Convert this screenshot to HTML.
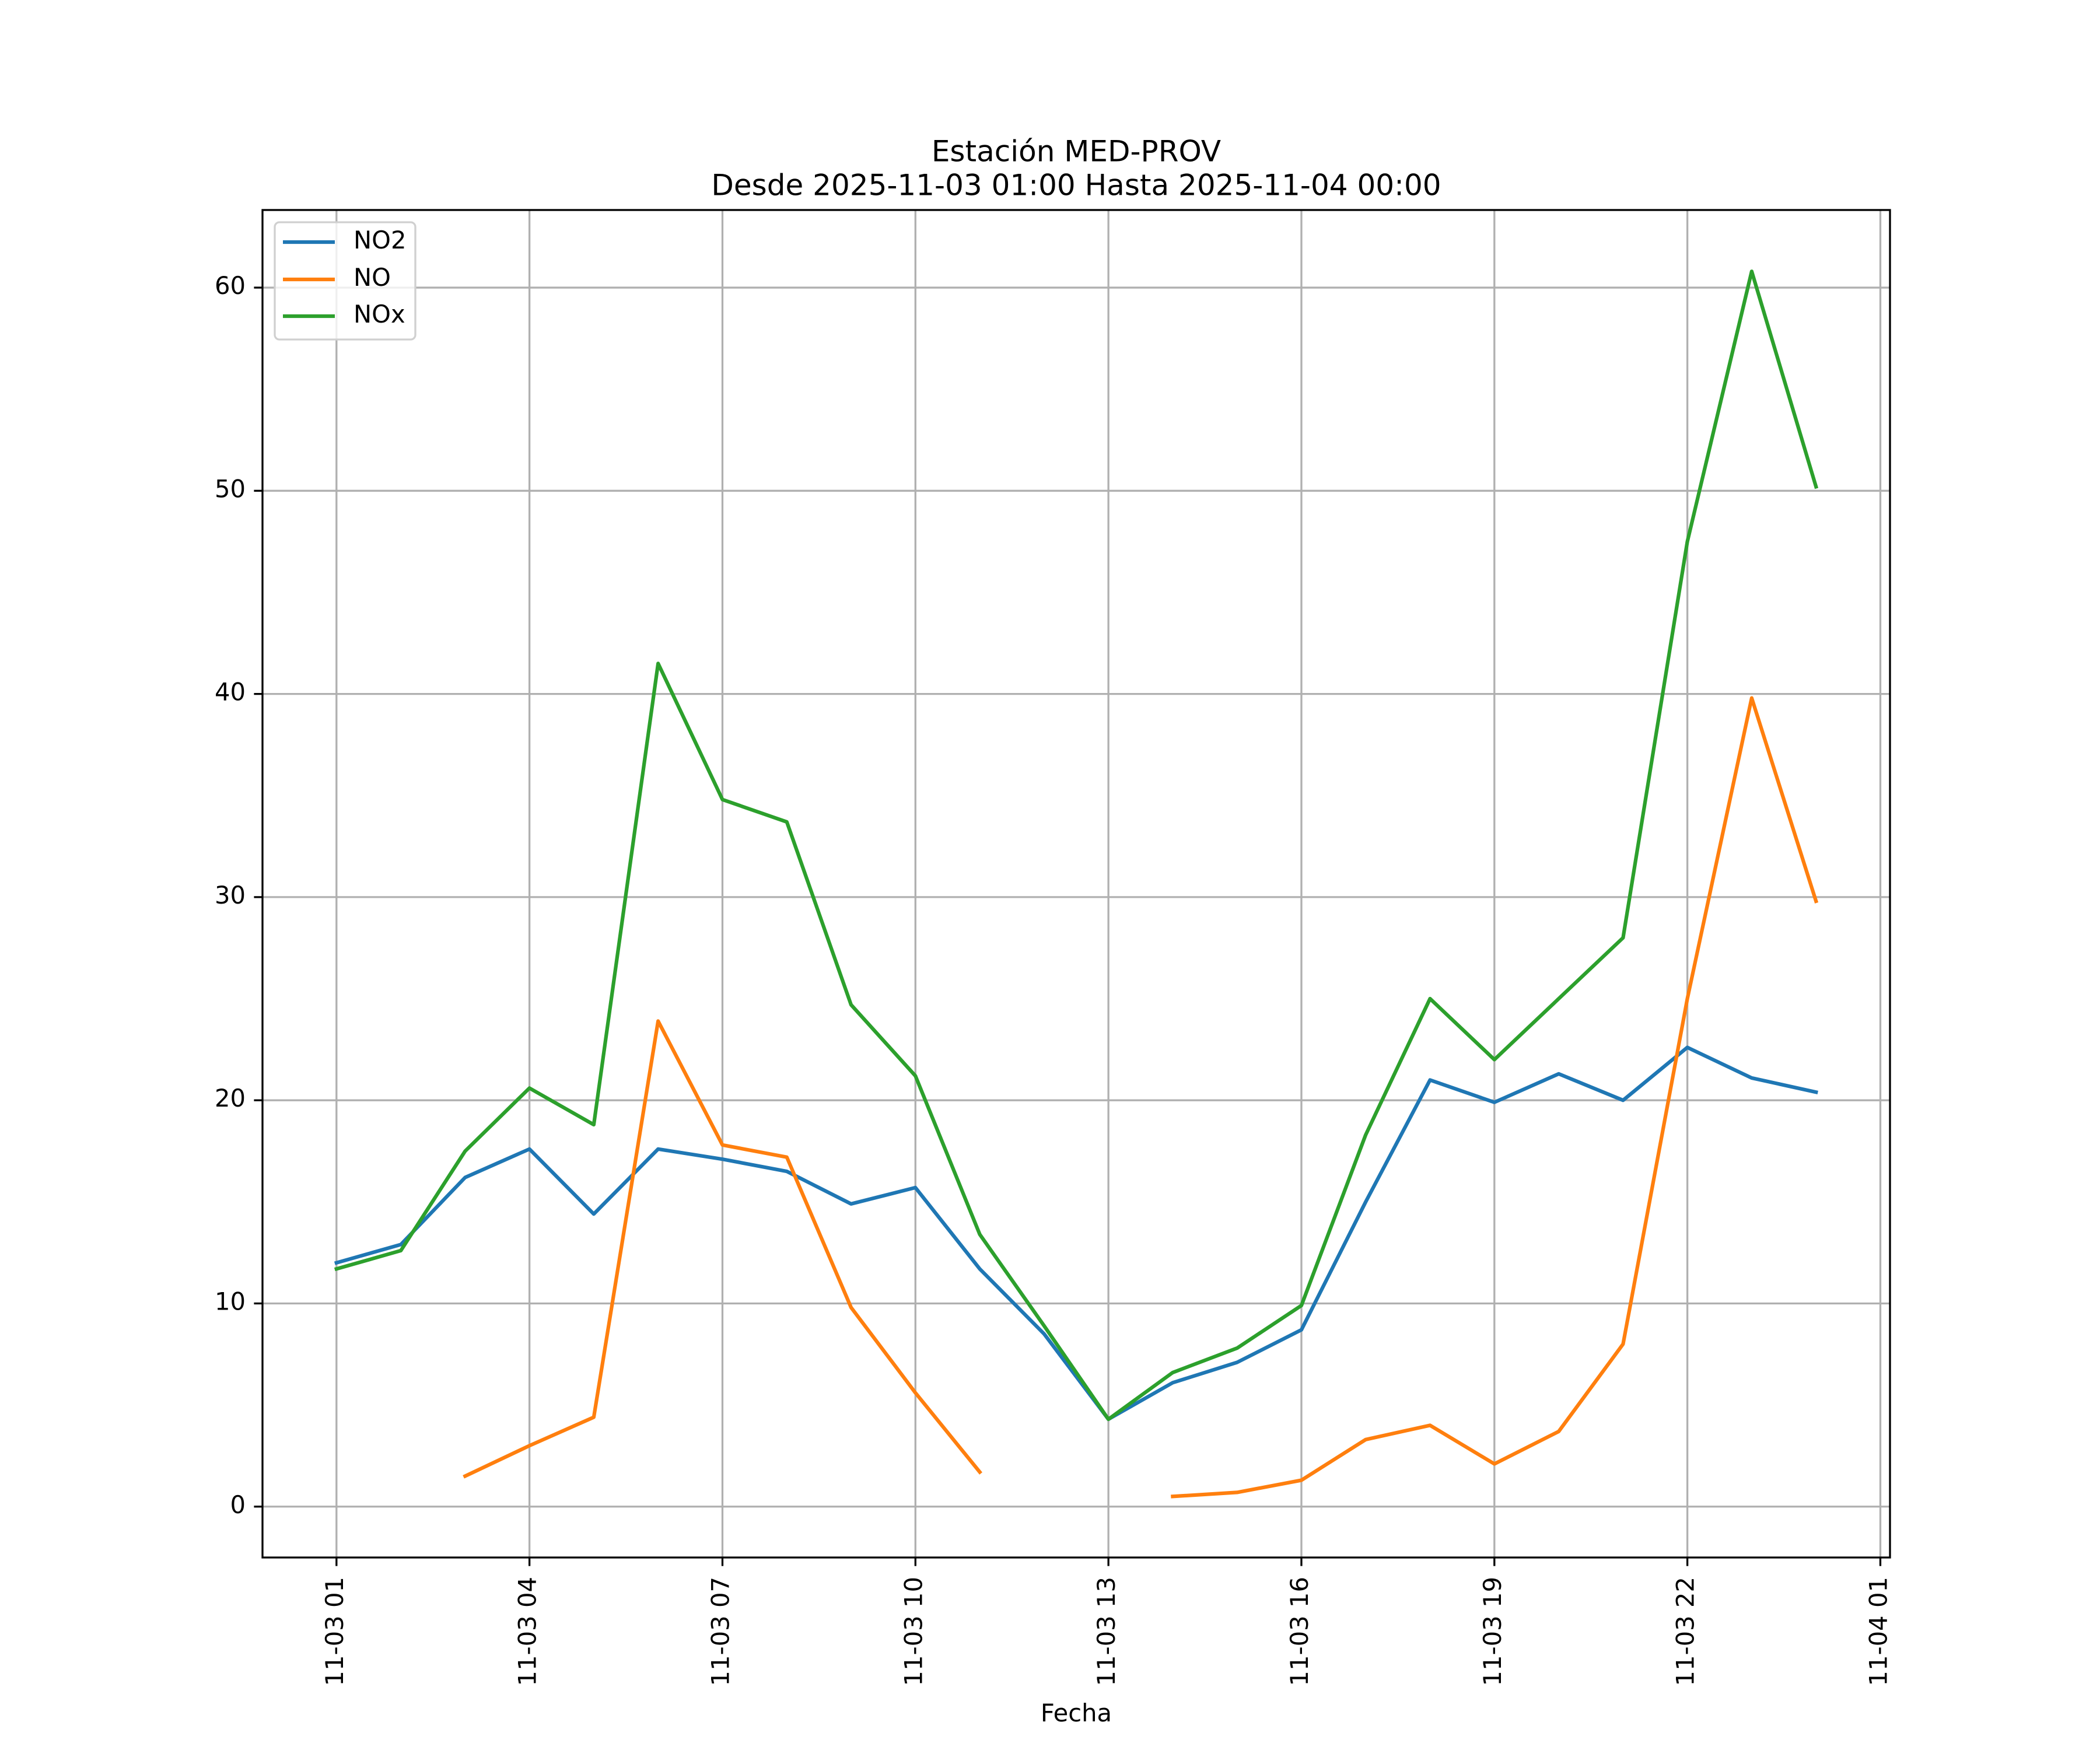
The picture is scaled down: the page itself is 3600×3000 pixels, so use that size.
<!DOCTYPE html>
<html><head><meta charset="utf-8"><style>
html,body{margin:0;padding:0;background:#fff;}
svg{display:block;font-family:"DejaVu Sans","Liberation Sans",sans-serif;}
</style></head><body>
<svg id="chart" width="3600" height="3000" viewBox="0 0 3600 3000" xmlns="http://www.w3.org/2000/svg">
<rect width="3600" height="3000" fill="#fff"/>
<text x="1845" y="263" font-size="50" text-anchor="middle" dominant-baseline="middle">Estación MED-PROV</text>
<text x="1845" y="321" font-size="50" text-anchor="middle" dominant-baseline="middle">Desde 2025-11-03 01:00 Hasta 2025-11-04 00:00</text>
<text x="1845" y="2940" font-size="41.7" text-anchor="middle" dominant-baseline="middle">Fecha</text>
<g id="grid"></g><g id="series"></g><g id="axes"></g><g id="legend"></g>
</svg>
<script>
const hours = [0,1,2,3,4,5,6,7,8,9,10,11,12,13,14,15,16,17,18,19,20,21,22,23];
const no2 = [12.0,12.9,16.2,17.6,14.4,17.6,17.1,16.5,14.9,15.7,11.7,8.5,4.3,6.1,7.1,8.7,15.0,21.0,19.9,21.3,20.0,22.6,21.1,20.4];
const no = [null,null,1.5,3.0,4.4,23.9,17.8,17.2,9.8,5.6,1.7,null,null,0.5,0.7,1.3,3.3,4.0,2.1,3.7,8.0,25.0,39.8,29.8];
const nox = [11.7,12.6,17.5,20.6,18.8,41.5,34.8,33.7,24.7,21.2,13.4,8.9,4.3,6.6,7.8,9.9,18.3,25.0,22.0,25.0,28.0,47.5,60.8,50.2];
const xTickHours = [0,3,6,9,12,15,18,21,24];
const xTickLabels = ["11-03 01","11-03 04","11-03 07","11-03 10","11-03 13","11-03 16","11-03 19","11-03 22","11-04 01"];
const yTicks = [0,10,20,30,40,50,60];

const L=450,R=3240,T=360,B=2670;
const XMIN=-1.15,XMAX=24.15,YMIN=-2.505,YMAX=63.82;
const sx=h=>L+(h-XMIN)/(XMAX-XMIN)*(R-L);
const sy=v=>B-(v-YMIN)/(YMAX-YMIN)*(B-T);
const NS="http://www.w3.org/2000/svg";
function mk(tag,attrs,parent){const e=document.createElementNS(NS,tag);for(const k in attrs)e.setAttribute(k,attrs[k]);parent.appendChild(e);return e;}
const grid=document.getElementById('grid'),axes=document.getElementById('axes'),ser=document.getElementById('series'),leg=document.getElementById('legend');

xTickHours.forEach((h,i)=>{
  const x=sx(h);
  const g=mk('line',{x1:x,x2:x,y1:T,y2:B,stroke:'#b0b0b0','stroke-width':3.3},grid);
  
  
  const t=mk('line',{x1:x,x2:x,y1:B,y2:B+14.6,stroke:'#000','stroke-width':3.3},axes);
  
  
  const lb=mk('text',{x:x,y:B+33,'font-size':41.7,'text-anchor':'end','dominant-baseline':'middle',transform:`rotate(-90 ${x} ${B+33})`},axes);
  lb.textContent=xTickLabels[i];
  
  
});
yTicks.forEach(v=>{
  const y=sy(v);
  const g=mk('line',{x1:L,x2:R,y1:y,y2:y,stroke:'#b0b0b0','stroke-width':3.3},grid);
  
  
  const t=mk('line',{x1:L-14.6,x2:L,y1:y,y2:y,stroke:'#000','stroke-width':3.3},axes);
  
  
  const lb=mk('text',{x:L-29,y:y,'font-size':41.7,'text-anchor':'end','dominant-baseline':'middle'},axes);
  lb.textContent=String(v);
  
  
});
const frame=mk('rect',{x:L,y:T,width:R-L,height:B-T,fill:'none',stroke:'#000','stroke-width':3.3},axes);



function drawSeries(vals,color,name){
  let d='',pen=false;
  vals.forEach((v,i)=>{
    if(v===null){pen=false;return;}
    d+=(pen?'L':'M')+sx(hours[i]).toFixed(1)+' '+sy(v).toFixed(1)+' ';
    pen=true;
  });
  const p=mk('path',{d:d,fill:'none',stroke:color,'stroke-width':6.25,'stroke-linejoin':'round','stroke-linecap':'square'},ser);
  
  
}
drawSeries(no2,'#1f77b4','no2-line');
drawSeries(no,'#ff7f0e','no-line');
drawSeries(nox,'#2ca02c','nox-line');

const box=mk('rect',{x:471,y:381,width:241,height:201,rx:8,fill:'#fff','fill-opacity':0.8,stroke:'#d0d0d0','stroke-width':3.3},leg);


[['NO2','#1f77b4',415],['NO','#ff7f0e',479],['NOx','#2ca02c',542]].forEach(([n,c,y])=>{
  const l=mk('line',{x1:485,x2:574,y1:y,y2:y,stroke:c,'stroke-width':6.25},leg);
  
  
  const t=mk('text',{x:606,y:y,'font-size':41.7,'dominant-baseline':'middle'},leg);
  t.textContent=n;
  
  
});
</script>
</body></html>
